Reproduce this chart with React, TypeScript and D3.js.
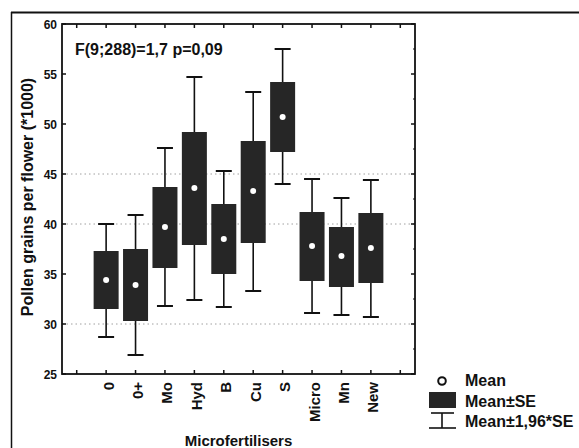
import React from "react";
import * as d3 from "d3";

const categories = ["0", "0+", "Mo", "Hyd", "B", "Cu", "S", "Micro", "Mn", "New"];
const means = [34.4, 33.9, 39.7, 43.6, 38.5, 43.3, 50.7, 37.8, 36.8, 37.6];
const seLow = [31.5, 30.3, 35.6, 37.9, 35.0, 38.1, 47.2, 34.3, 33.7, 34.1];
const seHigh = [37.3, 37.5, 43.7, 49.2, 42.0, 48.3, 54.2, 41.2, 39.7, 41.1];
const ciLow = [28.7, 26.9, 31.8, 32.4, 31.7, 33.3, 44.0, 31.1, 30.9, 30.7];
const ciHigh = [40.0, 40.9, 47.6, 54.7, 45.3, 53.2, 57.5, 44.5, 42.6, 44.4];
const yTicks = [25, 30, 35, 40, 45, 50, 55, 60];
const gridValues = [30, 40, 45];

const W = 579;
const H = 448;
const left = 62, right = 415, top = 24, bottom = 374;
const font = "'Liberation Sans', Arial, sans-serif";

export default function App() {
  const slots = ["_a", ...categories, "_b"];
  const x = d3.scaleBand<string>().domain(slots).range([left, right]);
  const y = d3.scaleLinear().domain([25, 60]).range([bottom, top]);
  const bw = 25;
  const cap = 16;
  const cx = (c: string) => (x(c) as number) + x.bandwidth() / 2;
  const minorTicks = d3.range(27.5, 60, 5);

  return (
    <svg width={W} height={H} style={{ position: "absolute", left: 0, top: 0, background: "#fff" }}>
      {/* outer frame */}
      <line x1={11} y1={12.5} x2={W} y2={12.5} stroke="#111" strokeWidth={2} />
      <line x1={11.5} y1={12} x2={11.5} y2={H} stroke="#111" strokeWidth={1.5} />

      {/* gridlines */}
      {gridValues.map((v) => (
        <line key={"g" + v} x1={left} x2={right} y1={y(v)} y2={y(v)} stroke="#888" strokeWidth={0.8} strokeDasharray="1.5,3" />
      ))}

      {/* boxes */}
      {categories.map((c, i) => {
        const xc = cx(c);
        return (
          <g key={c}>
            <line x1={xc} x2={xc} y1={y(ciHigh[i])} y2={y(seHigh[i])} stroke="#111" strokeWidth={1.6} />
            <line x1={xc} x2={xc} y1={y(seLow[i])} y2={y(ciLow[i])} stroke="#111" strokeWidth={1.6} />
            <line x1={xc - cap / 2} x2={xc + cap / 2} y1={y(ciHigh[i])} y2={y(ciHigh[i])} stroke="#111" strokeWidth={2} />
            <line x1={xc - cap / 2} x2={xc + cap / 2} y1={y(ciLow[i])} y2={y(ciLow[i])} stroke="#111" strokeWidth={2} />
            <rect x={xc - bw / 2} y={y(seHigh[i])} width={bw} height={y(seLow[i]) - y(seHigh[i])} fill="#262626" />
            <circle cx={xc} cy={y(means[i])} r={3} fill="#fff" />
          </g>
        );
      })}

      {/* plot frame */}
      <rect x={left} y={top} width={right - left} height={bottom - top} fill="none" stroke="#111" strokeWidth={1.8} />

      {/* y ticks */}
      {yTicks.map((v) => (
        <g key={"y" + v}>
          <line x1={left} x2={left + 4} y1={y(v)} y2={y(v)} stroke="#111" strokeWidth={1.5} />
          <line x1={right} x2={right - 4} y1={y(v)} y2={y(v)} stroke="#111" strokeWidth={1.5} />
          <text x={left - 5} y={y(v) + 4.5} textAnchor="end" fontFamily={font} fontSize={12} fontWeight="bold" fill="#111">
            {v}
          </text>
        </g>
      ))}
      {minorTicks.map((v) => (
        <line key={"m" + v} x1={right} x2={right - 2} y1={y(v)} y2={y(v)} stroke="#111" strokeWidth={1} />
      ))}

      {/* x ticks */}
      {slots.map((s) => (
        <g key={"x" + s}>
          <line x1={cx(s)} x2={cx(s)} y1={bottom} y2={bottom - 4} stroke="#111" strokeWidth={1.5} />
          <line x1={cx(s)} x2={cx(s)} y1={top} y2={top + 4} stroke="#111" strokeWidth={1.5} />
        </g>
      ))}
      {categories.map((c) => (
        <text
          key={"xl" + c}
          transform={`translate(${cx(c) + 7.5},${bottom + 8}) rotate(-90)`}
          textAnchor="end"
          fontFamily={font}
          fontSize={15}
          fontWeight="bold"
          fill="#111"
        >
          {c}
        </text>
      ))}

      {/* annotation */}
      <text x={75} y={55} fontFamily={font} fontSize={16} fontWeight="bold" fill="#111">
        F(9;288)=1,7 p=0,09
      </text>

      {/* axis titles */}
      <text
        transform={`translate(${33},${197}) rotate(-90)`}
        textAnchor="middle"
        fontFamily={font}
        fontSize={16}
        fontWeight="bold"
        fill="#111"
      >
        Pollen grains per flower (*1000)
      </text>
      <text x={(left + right) / 2} y={446} textAnchor="middle" fontFamily={font} fontSize={15} fontWeight="bold" fill="#111">
        Microfertilisers
      </text>

      {/* legend */}
      <circle cx={442} cy={381} r={3.8} fill="#fff" stroke="#111" strokeWidth={2} />
      <text x={465} y={386} fontFamily={font} fontSize={16} fontWeight="bold" fill="#111">Mean</text>
      <rect x={429} y={392} width={27} height={16} fill="#262626" />
      <text x={465} y={407} fontFamily={font} fontSize={16} fontWeight="bold" fill="#111">Mean±SE</text>
      <line x1={431} x2={454} y1={413} y2={413} stroke="#111" strokeWidth={1.6} />
      <line x1={442} x2={442} y1={413} y2={428} stroke="#111" strokeWidth={1.6} />
      <line x1={429} x2={456} y1={428} y2={428} stroke="#111" strokeWidth={1.6} />
      <text x={465} y={427} fontFamily={font} fontSize={16} fontWeight="bold" fill="#111">Mean±1,96*SE</text>
    </svg>
  );
}
